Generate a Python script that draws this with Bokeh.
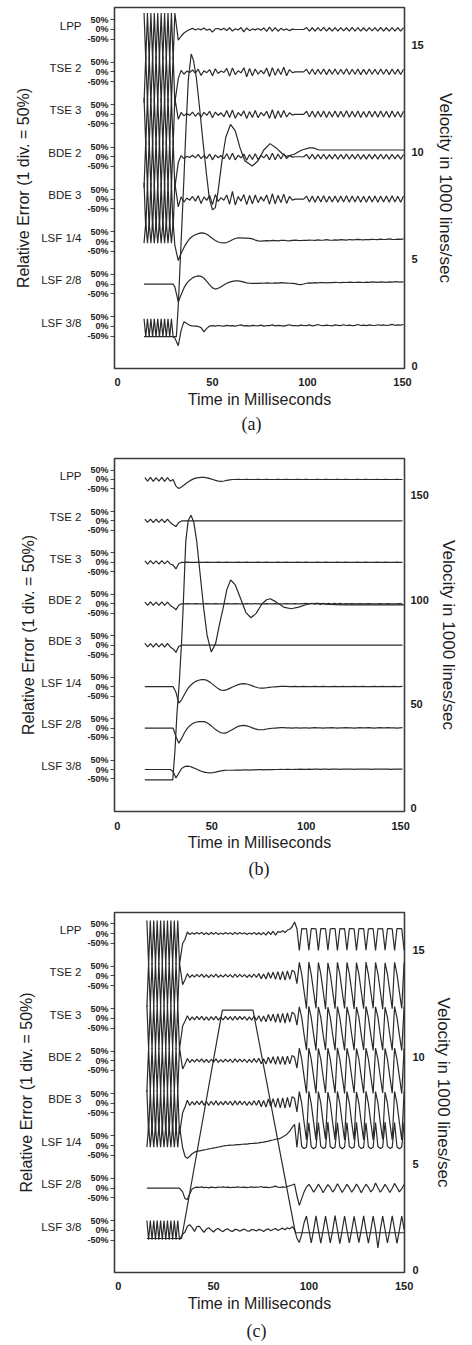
from bokeh.plotting import figure
from bokeh.models import Range1d, LinearAxis, FixedTicker, Title
from bokeh.layouts import column
from bokeh.embed import file_html
from bokeh.resources import INLINE

# ---------------- labels / ticks ----------------
NAMES = ["LPP", "TSE 2", "TSE 3", "BDE 2", "BDE 3", "LSF 1/4", "LSF 2/8", "LSF 3/8"]
PCT_TICKS = [50, 0, -50]
PCT_LABELS = ["50%", "0%", "-50%"]
TRACE_GAP = 220      # % between neighbouring trace baselines
NAME_LIFT = 20       # trace name sits slightly above its 0% line
TIME_TICKS = [0, 50, 100, 150]
VEL_TICKS_A = [0, 5, 10, 15]
VEL_TICKS_B = [0, 50, 100, 150]
VEL_TICKS_C = [0, 5, 10, 15]
X_TITLE = "Time in Milliseconds"
Y_TITLE = "Relative Error (1 div. = 50%)"
V_TITLE = "Velocity in 1000 lines/sec"
CAPTIONS = ["(a)", "(b)", "(c)"]

# ---------------- sampling grids (ms): dense start-up part + main part ----------------
T_A = [14 + 0.9 * i for i in range(19)] + [32 + 1.5 * i for i in range(80)]
T_B = [14.5 + 1.5 * i for i in range(92)]
T_C = [15 + 0.9 * i for i in range(20)] + [33.75 + 1.25 * i for i in range(94)]

# ---------------- panel (a): relative error (%) ----------------
LPP_A = [85, -160, 85, -160, 85, -160, 85, -160, 85, -160, 85, -160, 85, -160, 85, -160, 85, -160, 85,
         -55, -35, -18, -8,
         0, 6, -3, 4, -2, 8, -4, 2, -14, 3, 5, -2, 6, -5, 9, -8, 4, -3, 10, -12,
         8, -6, 3, -2, 5, -4, 8, -10, 12, -8, 10, -9, 6, -4, 3, -6, 2,
         0, 0, 0, 0,
         10, -8, 9, -9, 10, -7, 11, -8, 9, -9, 10, -8, 10, -7, 9, -9, 11, -8, 10, -8,
         9, -9, 10, -7, 10, -8, 11, -9, 9, -8, 10, -8, 10, -9, 10]
TSE2_A = [-160, 85, -160, 85, -160, 85, -160, 85, -160, 85, -160, 85, -160, 85, -160, 85, -160, 85, -160,
          -35, 8, -12, 4,
          -3, 10, -6, 14, -18, 6, -4, 12, -20, 16, -8, 5, -3, 18, -22, 20, -14, 6, -5, 22,
          -25, 18, -20, 15, -12, 8, -10, 20, -24, 22, -18, 16, -14, 24, -20, 12, -4,
          0, 0, 0, 0,
          14, -12, 15, -13, 14, -12, 15, -14, 13, -12, 15, -13, 14, -12, 16, -13, 14, -12, 15, -14,
          13, -13, 15, -12, 14, -13, 15, -12, 14, -14, 15, -12, 13, -13, 14]
TSE3_A = [85, -160, 85, -160, 85, -160, 85, -160, 85, -160, 85, -160, 85, -160, 85, -160, 85, -160, 85,
          -25, 10, -8, 5,
          -6, 12, -10, 8, -14, 10, -5, 16, -18, 12, -6, 8, -12, 20, -16, 22, -20, 10, -8, 18,
          -22, 14, -16, 20, -18, 10, -8, 16, -20, 24, -22, 18, -16, 20, -14, 8, -3,
          0, 0, 0, 0,
          16, -14, 17, -15, 16, -14, 17, -16, 15, -14, 17, -15, 16, -14, 18, -15, 16, -14, 17, -16,
          15, -15, 17, -14, 16, -15, 17, -14, 16, -16, 17, -14, 15, -15, 16]
BDE2_A = [-160, 85, -160, 85, -160, 85, -160, 85, -160, 85, -160, 85, -160, 85, -160, 85, -160, 85, -160,
          -30, 6, -10, 3,
          -4, 8, -6, 12, -10, 6, -8, 14, -16, 10, -5, 6, -10, 16, -14, 18, -16, 8, -6, 14,
          -18, 12, -14, 16, -15, 8, -6, 12, -16, 18, -16, 14, -12, 16, -10, 6, -2,
          0, 0, 0, 0,
          12, -11, 13, -12, 12, -11, 13, -12, 11, -11, 13, -12, 12, -11, 14, -12, 12, -11, 13, -12,
          11, -12, 13, -11, 12, -12, 13, -11, 12, -12, 13, -11, 11, -12, 12]
BDE3_A = [85, -160, 85, -160, 85, -160, 85, -160, 85, -160, 85, -160, 85, -160, 85, -160, 85, -160, 85,
          -40, 12, -15, 6,
          -5, 14, -10, 18, -22, 12, -6, 20, -28, 24, -12, 8, -6, 22, -26, 40, -30, 14, -10, 24,
          -28, 20, -24, 22, -18, 12, -10, 22, -26, 28, -24, 20, -18, 26, -22, 14, -5,
          0, 0, 0, 0,
          16, -15, 17, -16, 16, -15, 18, -16, 15, -15, 17, -16, 16, -15, 18, -16, 16, -15, 17, -16,
          15, -16, 17, -15, 16, -16, 17, -15, 16, -16, 18, -15, 15, -16, 16]
LSF14_A = [-8, 100, -8, 100, -8, 100, -8, 100, -8, 100, -8, 100, -8, 100, -8, 100, -8, 100, -20,
           -98, -60, -30, -5, 15, 28, 36, 41, 45, 44, 38, 28, 16, 6, -2, -6, -7, -5, 2, 10,
           16, 19, 19, 18, 18, 17, 14, 8, 4, 3, 4,
           5, 4, 6, 5, 4, 6, 7, 5, 4, 6, 8, 6, 5, 7, 6, 8, 7, 6, 9, 7,
           8, 10, 8, 7, 9, 8, 10, 9, 8, 11, 9, 10, 12, 10, 9, 11, 10, 12, 11, 10,
           13, 11, 12, 14, 12, 11, 13, 12, 14]
LSF28_A = [0, 0, 0, 0, 0, 0, 0, 0, 0, 0, 0, 0, 0, 0, 0, 0, 0, 0, -15,
           -93, -55, -20, 5, 20, 32, 39, 42, 40, 30, 14, -4, -20, -26, -22, -14, -5, 4, 10, 14,
           16, 16, 14, 10, 6, 4, 3,
           4, 3, 5, 4, 6, 5, 4, 6, 5, 7, 6, 5, 4, 3, 2, -2, -3, 0, 4, 6,
           5, 7, 6, 8, 7, 6, 8, 7, 9, 8, 7, 9, 8, 10, 9, 8, 10, 9, 8, 10,
           9, 11, 10, 9, 11, 10, 9, 11, 10, 12, 11, 10, 11]
LSF38_A = [40, -55, 40, -55, 40, -55, 40, -55, 40, -55, 40, -55, 40, -55, 40, -55, 40, -55, -60,
           -100, -20, 25, 15, 6, 3, 2, 0, -6, -28, -10, 2,
           4, 2, 5, 3, 2, 6, 3, 4, 2, 5, 8, 3, 4, 2, 6, 4, 3, 7, 2, 5,
           4, 8, 3, 6, 4, 2, 6, 9, 4, 5, 3, 7, 5, 4, 8, 3, 6, 10, 5, 4,
           7, 5, 3, 8, 6, 4, 9, 5, 7, 4, 6, 10, 5, 7, 4, 8, 6, 5, 9, 6,
           8, 5, 7, 11, 6, 8, 7, 10]
VT_A = [14, 31, 32, 33, 34, 35, 36, 37.3, 38.8, 40, 41.5, 43.3, 45, 46.8, 48.4, 50, 51.5, 53, 55, 57,
        59.5, 62, 64.5, 67, 70.9, 74, 77, 80.3, 83.5, 86.5, 89, 93, 97, 101, 103, 106, 110, 151]
V_A = [1.35, 1.35, 2.8, 4.8, 6.8, 8.8, 11.0, 13.4, 14.6, 14.3, 13.5, 12.0, 10.5, 9.0, 7.8, 7.3, 7.4, 8.2, 9.6, 10.7,
       11.3, 11.0, 10.2, 9.6, 9.35, 9.6, 10.1, 10.4, 10.2, 9.95, 9.8, 9.9, 10.1, 10.2, 10.2, 10.1, 10.1, 10.1]

# ---------------- panel (b) ----------------
LPP_B = [10, -9, 11, -10, 10, -9, 11, -10, 10, -9,
         0, -35, -48, -40, -28, -16, -6, 2, 7, 10, 11, 11, 9, 5, 0, -5, -9, -10, -8, -5, -2, 0,
         0, 1, 0, 0, 1, 0, 0, 0, 1, 0, 0, 1, 0, 0, 0, 1, 0, 0, 1, 0,
         0, 0, 1, 0, 0, 1, 0, 0, 0, 1, 0, 0, 1, 0, 0, 0, 1, 0, 0, 1,
         0, 0, 0, 1, 0, 0, 1, 0, 0, 0, 1, 0, 0, 1, 0, 0, 0, 1, 0, 0]
TSE2_B = [9, -8, 10, -9, 9, -8, 10, -9, 9, -8,
          -20, -30, -8, 0,
          1, 0, 0, 1, 0, 0, 0, 1, 0, 0, 1, 0, 0, 0, 1, 0, 0, 1, 0, 0,
          0, 1, 0, 0, 1, 0, 0, 0, 1, 0, 0, 1, 0, 0, 0, 1, 0, 0, 1, 0,
          0, 0, 1, 0, 0, 1, 0, 0, 0, 1, 0, 0, 1, 0, 0, 0, 1, 0, 0, 1,
          0, 0, 0, 1, 0, 0, 1, 0, 0, 0, 1, 0, 0, 1, 0, 0, 0, 1]
TSE3_B = [8, -9, 9, -8, 8, -9, 9, -8, 8, -9,
          -15, -35, -6, 0,
          0, 1, 0, 0, 0, 1, 0, 0, 1, 0, 0, 0, 1, 0, 0, 1, 0, 0, 0, 1,
          0, 0, 1, 0, 0, 0, 1, 0, 0, 1, 0, 0, 0, 1, 0, 0, 1, 0, 0, 0,
          1, 0, 0, 1, 0, 0, 0, 1, 0, 0, 1, 0, 0, 0, 1, 0, 0, 1, 0, 0,
          0, 1, 0, 0, 1, 0, 0, 0, 1, 0, 0, 1, 0, 0, 0, 1, 0, 0]
BDE2_B = [9, -9, 10, -8, 9, -9, 10, -8, 9, -9,
          -18, -32, -8, 0,
          0, 1, 0, 0, 1, 0, 0, 0, 1, 0, 0, 1, 0, 0, 0, 1, 0, 0, 1, 0,
          0, 0, 1, 0, 0, 1, 0, 0, 0, 1, 0, 0, 1, 0, 0, 0, 1, 0, 0, 1,
          0, 0, 1, 2, -1, 3, -2, 2, -3, 3, -2, 2, -1, 3, -2, 2, -1, 1, 0, 1,
          0, 0, 1, 0, 0, 1, 0, 0, 0, 1, 0, 0, 1, 0, 0, 0, 1, 0]
BDE3_B = [10, -9, 9, -10, 10, -9, 9, -10, 10, -9,
          -20, -38, -6, 0,
          1, 0, 0, 0, 1, 0, 0, 1, 0, 0, 0, 1, 0, 0, 1, 0, 0, 0, 1, 0,
          0, 1, 0, 0, 0, 1, 0, 0, 1, 0, 0, 0, 1, 0, 0, 1, 0, 0, 0, 1,
          0, 0, 1, 0, 0, 0, 1, 0, 0, 1, 0, 0, 0, 1, 0, 0, 1, 0, 0, 0,
          1, 0, 0, 1, 0, 0, 0, 1, 0, 0, 1, 0, 0, 0, 1, 0, 0, 1]
LSF14_B = [0, 0, 0, 0, 0, 0, 0, 0, 0, 0,
           0, -30, -88, -70, -42, -15, 5, 18, 28, 34, 37, 37, 33, 24, 12, 0, -12, -19, -20, -16,
           -9, -2, 5, 11, 15, 16, 14, 10, 4, -2, -6, -8, -8, -6,
           -4, -2, -1, 0, 1, 1, 1, 0, 0, 1, 0, 0, 1, 0, 0, 0, 1, 0, 0, 1,
           0, 0, 0, 1, 0, 0, 1, 0, 0, 0, 1, 0, 0, 1, 0, 0, 0, 1, 0, 0,
           1, 0, 0, 0, 1, 0, 0, 1]
LSF28_B = [0, 0, 0, 0, 0, 0, 0, 0, 0, 0,
           0, -45, -80, -55, -25, -2, 14, 25, 31, 34, 35, 34, 28, 18, 5, -8, -18, -25, -27, -24,
           -16, -7, 2, 9, 13, 14, 12, 7, 1, -4, -8, -9, -8, -5,
           -3, -1, 0, 1, 2, 2, 1, 1, 0, 1, 1, 0, 1, 1, 0, 1, 2, 1, 1, 0,
           1, 1, 2, 1, 0, 1, 1, 2, 1, 1, 0, 1, 2, 1, 1, 2, 1, 0, 1, 2,
           1, 1, 2, 1, 1, 0, 1, 2]
LSF38_B = [0, 0, 0, 0, 0, 0, 0, 0, 0, 0,
           -10, -45, -20, 5, 15, 18, 16, 10, 4, -3, -9, -14, -17, -18, -17, -14, -10, -7, -5, -4,
           -4, -4, -3, -3, -3, -2, -2, -3, -2, -2, -1, -1, -2, -1, 0, -1, 0, 0, 1, 0,
           1, 1, 0, 1, 1, 2, 1, 1, 2, 1, 2, 2, 1, 2, 2, 1, 2, 2, 2, 1,
           2, 2, 2, 2, 1, 2, 2, 2, 2, 2, 1, 2, 2, 2, 2, 2, 2, 1, 2, 2,
           2, 2]
VT_B = [14.5, 29.3, 30.5, 31.5, 32.8, 34.0, 34.8, 36.2, 37.5, 39, 40.5, 42, 43.5, 45.7, 47.5, 49.7, 52, 54, 56, 58,
        60, 62.5, 65.5, 68, 70.7, 73.5, 76.5, 79, 81, 84, 88, 92, 96, 101, 106, 112, 120, 152]
V_B = [13.7, 13.7, 28, 45, 61, 80, 96, 128, 138, 140.5, 137, 128, 115, 96, 83, 75, 79, 88, 96, 105,
       109.5, 107, 100, 94, 91.4, 93.5, 98, 100, 100.5, 99, 96.5, 95.7, 96.5, 98, 98.3, 97.8, 97.6, 97.6]

# ---------------- panel (c) ----------------
LPP_C = [68, -160, 68, -160, 68, -160, 68, -160, 68, -160, 68, -160, 68, -160, 68, -160, 68, -160, 68, -160,
         -52, -30, 8, -5, 4,
         -4, 5, -3, 6, -5, 4, -6, 5, -4, 6, -5, 3, -4, 5, -3, 4, -5, 6, -4, 5,
         -3, 4, -5, 3, -4, 6, -5, 4, -6, 5, -8, 10, -6, 12, -8, 10,
         6, 14, 5, 18, 22, 35, 60,
         25, -88, 25, 24, 26, -86, 25, 25, 24, -88, 26, 25, 25, -87, 24, 25, 26, -88, 25, 24,
         25, -86, 25, 26, 24, -88, 25, 25, 26, -87, 24, 25, 25, -88, 26, 24, 25, -86, 25, 25,
         24, -88, 26, 25, 25, -87]
TSE2_C = [-160, 68, -160, 68, -160, 68, -160, 68, -160, 68, -160, 68, -160, 68, -160, 68, -160, 68, -160, 68,
          -45, -20, 12, -8, 6,
          -6, 8, -5, 9, -7, 6, -8, 7, -6, 9, -7, 5, -6, 8, -5, 7, -8, 9, -6, 8,
          -5, 7, -8, 6, -7, 10, -8, 12, -14, 10, -16, 18, -12, 20, -18, 22,
          -20, 24, -22, 26, -18, 30, 20,
          -40, 70, 10, -80, -170, 72, 8, -82, -168, 70, 12, -78, -172, 68, 10, -80, -170, 71, 9, -81,
          -169, 70, 11, -79, -171, 69, 10, -80, -170, 72, 8, -82, -168, 70, 12, -78, -172, 68, 10, -80,
          -170, 71, 9, -81, -169, 70]
TSE3_C = [68, -160, 68, -160, 68, -160, 68, -160, 68, -160, 68, -160, 68, -160, 68, -160, 68, -160, 68, -160,
          -40, -15, 14, -10, 8,
          -8, 10, -7, 11, -9, 8, -10, 9, -8, 11, -9, 7, -8, 10, -7, 9, -10, 11, -8, 10,
          -7, 9, -10, 8, -9, 12, -10, 14, -16, 12, -18, 20, -14, 22, -20, 24,
          -22, 26, -24, 28, -20, 32, 22,
          -35, 60, 5, -85, -165, 62, 4, -84, -166, 60, 6, -86, -164, 58, 5, -85, -165, 61, 4, -84,
          -166, 60, 6, -85, -165, 59, 5, -86, -164, 62, 4, -84, -166, 60, 6, -85, -165, 58, 5, -85,
          -165, 61, 4, -84, -166, 60]
BDE2_C = [-160, 68, -160, 68, -160, 68, -160, 68, -160, 68, -160, 68, -160, 68, -160, 68, -160, 68, -160, 68,
          -42, -18, 12, -9, 7,
          -7, 9, -6, 10, -8, 7, -9, 8, -7, 10, -8, 6, -7, 9, -6, 8, -9, 10, -7, 9,
          -6, 8, -9, 7, -8, 11, -9, 13, -15, 11, -17, 19, -13, 21, -19, 23,
          -18, 22, -20, 24, -16, 28, 18,
          -38, 65, 8, -82, -168, 66, 7, -81, -169, 64, 9, -83, -167, 65, 8, -82, -168, 67, 7, -81,
          -169, 65, 9, -83, -167, 64, 8, -82, -168, 66, 7, -81, -169, 65, 9, -83, -167, 64, 8, -82,
          -168, 66, 7, -81, -169, 65]
BDE3_C = [68, -160, 68, -160, 68, -160, 68, -160, 68, -160, 68, -160, 68, -160, 68, -160, 68, -160, 68, -160,
          -50, -20, 15, -12, 9,
          -9, 11, -8, 12, -10, 9, -11, 10, -9, 12, -10, 8, -9, 11, -8, 10, -11, 12, -9, 11,
          -8, 10, -11, 9, -10, 13, -11, 15, -18, 14, -20, 22, -16, 24, -22, 26,
          -24, 28, -26, 30, -22, 34, 24,
          -45, 60, 0, -100, -190, 62, -2, -98, -192, 60, 2, -102, -188, 58, 0, -100, -190, 61, -1, -99,
          -191, 60, 1, -101, -189, 59, 0, -100, -190, 62, -2, -98, -192, 60, 2, -102, -188, 58, 0, -100,
          -190, 61, -1, -99, -191, 60]
LSF14_C = [-8, 100, -8, 100, -8, 100, -8, 100, -8, 100, -8, 100, -8, 100, -8, 100, -8, 100, -8, 100,
           -10, -55, -66, -55, -42, -34, -30, -27,
           -25, -22, -20, -17, -15, -12, -10, -7, -5, -2,
           0,
           1, 3, 2, 4, 5, 5, 7, 8, 8, 10, 11, 12,
           13, 14, 17, 18, 21, 23, 27, 29, 33, 35, 38,
           45, 52, 62, 75,
           95, 110,
           -10, 120, -5, -15, -8, 118, -6, -16, -7, 120, -4, -14, -9, 122, -5, -15, -8, 119, -6, -16,
           -7, 120, -5, -14, -8, 121, -4, -15, -9, 118, -6, -16, -7, 120, -5, -15, -8, 122, -4, -14,
           -9, 119, -6, -16, -7, 120]
LSF28_C = [0, 0, 0, 0, 0, 0, 0, 0, 0, 0, 0, 0, 0, 0, 0, 0, 0, 0, 0, 0,
           -20, -55, -59, -30, -5,
           2, 5, 3, 6, 2, 4, 1, 5, 3, 2, 5, 4, 6, 3, 5, 2, 4, 3, 6, 4,
           3, 5, 2, 4, 6, 3, 5, 4, 8, 3, 5, 2, 4, 6, 10, 4, 3, 6, 4, 8, 12,
           16, 20,
           -40, -90, -55, -20,
           5, 19, 2, -22, -3, 20, 1, -24, -2, 18, 3, -21, -4, 22, 0, -23, -2, 19, 2, -22,
           -3, 21, 1, -24, -1, 20, 4, -20, -5, 26, 2, -22, -3, 19, 0, -23, -2, 24, 3, -20,
           -4, 18]
LSF38_C = [52, -48, 52, -48, 52, -48, 52, -48, 52, -48, 52, -48, 52, -48, 52, -48, 52, -48, 52, -48,
           -20, -8, 22, 30, 15, -5,
           20, 22, 5, -10, 8, 14, 2, -8, 6, 10,
           0, -6, 5, 8, -2, -5, 6, 4, -4, 3, 7, -2, -4, 5, 3, -3, 6, 2, -5, 4,
           8, -2, 5, 10, 0, 6, 12, 4, 14, 8,
           20, 5,
           -40, -62, -20, 40,
           75, 5, -65, 0, 76, 3, -66, 2, 74, 6, -64, -1, 77, 4, -68, 1, 75, 2, -65, 0,
           73, 5, -63, 3, 76, 2, -66, 0, 75, 4, -90, 2, 74, 3, -65, 1, 76, 5, -67, 0,
           75, 5]
VT_C = [15, 33.2, 54.6, 70.7, 92.9, 150.2]
V_C = [1.5, 1.5, 12.2, 12.2, 1.77, 1.77]

TRACES_A = [LPP_A, TSE2_A, TSE3_A, BDE2_A, BDE3_A, LSF14_A, LSF28_A, LSF38_A]
TRACES_B = [LPP_B, TSE2_B, TSE3_B, BDE2_B, BDE3_B, LSF14_B, LSF28_B, LSF38_B]
TRACES_C = [LPP_C, TSE2_C, TSE3_C, BDE2_C, BDE3_C, LSF14_C, LSF28_C, LSF38_C]

for grid, group in ((T_A, TRACES_A), (T_B, TRACES_B), (T_C, TRACES_C)):
    for k, tr in enumerate(group):
        assert len(tr) == len(grid), (k, len(tr), len(grid))

# ---------------- styling ----------------
SANS = "Liberation Sans"
SERIF = "Liberation Serif"
INK = "#2a2a2a"
TXT = "#1c1c1c"


def build(t, traces, vt, vv, vel_ticks, caption, cfg):
    p = figure(width=472, height=cfg["h"], title=None,
               x_range=Range1d(*cfg["xr"]), y_range=Range1d(*cfg["yr"]),
               output_backend="svg", toolbar_location=None,
               min_border_left=cfg["bl"], min_border_right=cfg["br"],
               min_border_top=cfg["bt"], min_border_bottom=cfg["bb"])
    p.extra_y_ranges = {"vel": Range1d(*cfg["vr"])}
    p.xgrid.visible = False
    p.ygrid.visible = False
    p.background_fill_color = "white"
    p.border_fill_color = "white"
    p.outline_line_color = "#3c3c3c"
    p.outline_line_width = 1.6

    n = len(traces)
    offsets = [(n - 1 - k) * TRACE_GAP for k in range(n)]
    for k, vals in enumerate(traces):
        p.line(t, [v + offsets[k] for v in vals], line_color=INK, line_width=1.2)
    p.line(vt, vv, y_range_name="vel", line_color=INK, line_width=1.2)

    pct_ticks, pct_over = [], {}
    name_ticks, name_over = [], {}
    for k, off in enumerate(offsets):
        for tk, lab in zip(PCT_TICKS, PCT_LABELS):
            pct_ticks.append(off + tk)
            pct_over[off + tk] = lab
        name_ticks.append(off + NAME_LIFT)
        name_over[off + NAME_LIFT] = NAMES[k]

    ya = p.yaxis[0]
    ya.ticker = FixedTicker(ticks=pct_ticks, minor_ticks=[])
    ya.major_label_overrides = pct_over
    ya.major_label_text_font = SANS
    ya.major_label_text_font_size = "9px"
    ya.major_label_text_font_style = "bold"
    ya.major_label_text_color = TXT
    ya.major_tick_out = 4
    ya.major_tick_in = 0
    ya.major_tick_line_color = "#444444"
    ya.minor_tick_out = 0
    ya.minor_tick_in = 0
    ya.axis_line_color = None
    ya.major_label_standoff = 2

    na = LinearAxis(ticker=FixedTicker(ticks=name_ticks, minor_ticks=[]))
    na.major_label_overrides = name_over
    na.major_label_text_font = SANS
    na.major_label_text_font_size = "11.5px"
    na.major_label_text_color = TXT
    na.major_tick_out = 0
    na.major_tick_in = 0
    na.minor_tick_out = 0
    na.minor_tick_in = 0
    na.axis_line_color = None
    na.major_label_standoff = 3
    na.axis_label = Y_TITLE
    na.axis_label_text_font = SANS
    na.axis_label_text_font_size = "16px"
    na.axis_label_text_font_style = "normal"
    na.axis_label_text_color = TXT
    na.axis_label_standoff = cfg["yts"]
    p.add_layout(na, "left")

    xa = p.xaxis[0]
    xa.ticker = FixedTicker(ticks=TIME_TICKS, minor_ticks=[])
    xa.major_label_text_font = SANS
    xa.major_label_text_font_size = "11px"
    xa.major_label_text_font_style = "bold"
    xa.major_label_text_color = TXT
    xa.major_tick_out = 0
    xa.major_tick_in = 0
    xa.minor_tick_out = 0
    xa.minor_tick_in = 0
    xa.axis_line_color = None
    xa.major_label_standoff = cfg["xls"]
    xa.axis_label = X_TITLE
    xa.axis_label_text_font = SANS
    xa.axis_label_text_font_size = "16px"
    xa.axis_label_text_font_style = "normal"
    xa.axis_label_text_color = TXT
    xa.axis_label_standoff = cfg["xts"]

    ra = LinearAxis(y_range_name="vel", ticker=FixedTicker(ticks=vel_ticks, minor_ticks=[]))
    ra.major_label_text_font = SANS
    ra.major_label_text_font_size = "11px"
    ra.major_label_text_font_style = "bold"
    ra.major_label_text_color = TXT
    ra.major_tick_out = 0
    ra.major_tick_in = 0
    ra.minor_tick_out = 0
    ra.minor_tick_in = 0
    ra.axis_line_color = None
    ra.major_label_standoff = cfg["vls"]
    ra.axis_label = V_TITLE
    ra.axis_label_text_font = SANS
    ra.axis_label_text_font_size = "17px"
    ra.axis_label_text_font_style = "normal"
    ra.axis_label_text_color = TXT
    ra.axis_label_standoff = cfg["vts"]
    p.add_layout(ra, "right")

    cap = Title(text=caption, align="left", offset=cfg["co"], standoff=cfg["cs"],
                text_font=SERIF, text_font_size="18px", text_font_style="normal",
                text_color=TXT)
    p.add_layout(cap, "below")
    return p


CFG_A = dict(h=446, bl=110, br=67, bt=7, bb=78,
             xr=(-1.55, 151.03), yr=(-218, 1654), vr=(-0.14, 16.78),
             yts=6, xls=9, xts=2, vls=7, vts=9, co=127, cs=3)
CFG_B = dict(h=446, bl=107, br=68, bt=12, bb=81,
             xr=(-1.55, 152.07), yr=(-223, 1651.5), vr=(-1.44, 167.7),
             yts=1, xls=10, xts=1, vls=6, vts=7, co=134, cs=6)
CFG_C = dict(h=452, bl=114, br=55, bt=20, bb=72,
             xr=(-2.0, 150.2), yr=(-218, 1649), vr=(-0.094, 16.78),
             yts=3, xls=9, xts=2, vls=8, vts=6, co=132, cs=8)

pa = build(T_A, TRACES_A, VT_A, V_A, VEL_TICKS_A, CAPTIONS[0], CFG_A)
pb = build(T_B, TRACES_B, VT_B, V_B, VEL_TICKS_B, CAPTIONS[1], CFG_B)
pc = build(T_C, TRACES_C, VT_C, V_C, VEL_TICKS_C, CAPTIONS[2], CFG_C)

layout = column(pa, pb, pc, spacing=0)
open("out.html", "w").write(file_html(layout, INLINE))
